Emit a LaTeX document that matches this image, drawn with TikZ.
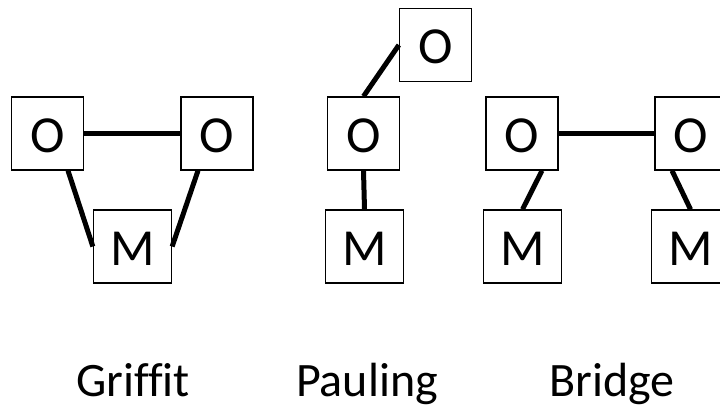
\documentclass[tikz,border=0pt]{standalone}
\usepackage{fontspec}
\setmainfont[Ligatures={NoCommon}]{Carlito}
\begin{document}
\begin{tikzpicture}[x=1pt,y=-1pt,
  atom/.style={draw=black,line width=1.3pt,fill=white,inner sep=0pt,
    minimum width=72pt,minimum height=73pt,text height=38pt,text depth=0pt,
    font=\fontsize{52}{52}\selectfont},
  metal/.style={atom,minimum width=78pt},
  bond/.style={line width=5pt},
  caption/.style={anchor=base,inner sep=0pt,font=\fontsize{48}{48}\selectfont}]
\useasboundingbox (0,0) rectangle (720,409);
\fill[white] (0,0) rectangle (720,409);
% Griffit
\node[atom]  (gO1) at (47.5,133.5) {O};
\node[atom]  (gO2) at (217,133.5) {O};
\node[metal] (gM)  at (132.5,246.5) {M};
\draw[bond] (gO1.east) -- (gO2.west);
\draw[bond] ([xshift=20.5pt]gO1.south) -- (gM.west);
\draw[bond] ([xshift=-19pt]gO2.south) -- (gM.east);
% Pauling
\node[atom]  (pO1) at (435.5,45) {O};
\node[atom]  (pO2) at (363.5,133.5) {O};
\node[metal] (pM)  at (364.5,246.5) {M};
\draw[bond] (pO2.north) -- (pO1.west);
\draw[bond] (pO2.south) -- (pM.north);
% Bridge
\node[atom]  (bO1) at (522,133.5) {O};
\node[atom]  (bO2) at (691,133.5) {O};
\node[metal] (bM1) at (522.5,246.5) {M};
\node[metal] (bM2) at (690.5,246.5) {M};
\draw[bond] (bO1.east) -- (bO2.west);
\draw[bond] ([xshift=20pt]bO1.south) -- (bM1.north);
\draw[bond] ([xshift=-19pt]bO2.south) -- (bM2.north);
% captions
\node[caption] (lg) at (133,396) {Griffit};
\node[caption] (lp) at (367,396) {Pauling};
\node[caption] (lb) at (612,396) {Bridge};
\end{tikzpicture}
\end{document}
